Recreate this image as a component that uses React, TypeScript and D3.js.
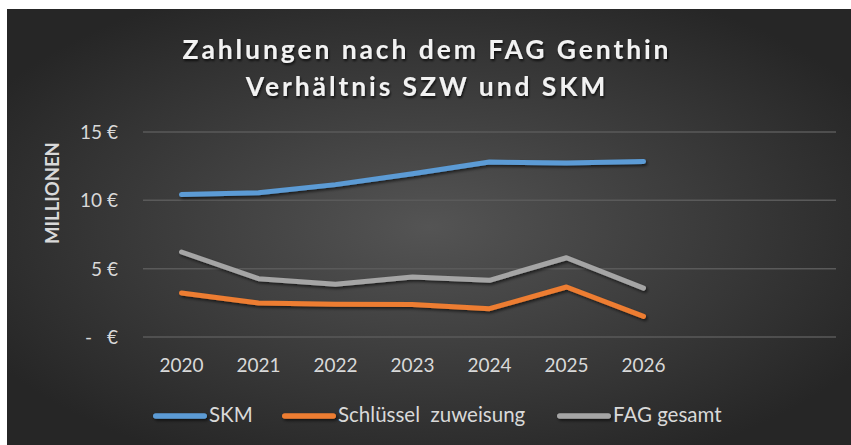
import React from 'react'
import * as d3 from 'd3'

const years = ['2020', '2021', '2022', '2023', '2024', '2025', '2026']
const emptySlots = ['_1', '_2']
const skm = [10.42, 10.56, 11.15, 11.95, 12.8, 12.73, 12.85]
const schluessel = [3.22, 2.49, 2.39, 2.37, 2.07, 3.66, 1.51]
const fagGesamt = [6.22, 4.27, 3.86, 4.39, 4.15, 5.8, 3.58]
const yTicks = [0, 5, 10, 15]

const seriesNames = ['SKM', 'Schlüssel  zuweisung', 'FAG gesamt']
const seriesColors = ['#5B9BD5', '#ED7D31', '#A5A5A5']
const seriesValues = [skm, schluessel, fagGesamt]

const width = 851
const height = 445
const frame = { x: 7, y: 9 }
const plot = { left: 143, right: 836, top: 132, bottom: 337 }
const font = 'Lato, "Open Sans", sans-serif'

export default function App() {
	const x = d3
		.scaleBand()
		.domain(years.concat(emptySlots))
		.range([plot.left, plot.right])
	const y = d3.scaleLinear().domain([0, 15]).range([plot.bottom, plot.top])
	const cx = (d: string) => (x(d) as number) + x.bandwidth() / 2

	const line = d3
		.line<number>()
		.x((_, i) => cx(years[i]))
		.y(d => y(d))

	// legend entries: start of the sample line
	const legendX = [153, 282, 557]
	const legendY = 416

	return (
		<svg
			width={width}
			height={height}
			style={{ position: 'absolute', left: 0, top: 0 }}
			fontFamily={font}
		>
			<defs>
				<radialGradient id="bg" cx="50%" cy="50%" r="60%">
					<stop offset="0%" stopColor="#545454" />
					<stop offset="100%" stopColor="#262626" />
				</radialGradient>
				<filter id="shadow" filterUnits="userSpaceOnUse" x="0" y="0" width={width} height={height}>
					<feDropShadow dx="1.5" dy="2" stdDeviation="1.5" floodColor="#000" floodOpacity="0.6" />
				</filter>
				<filter id="tshadow" filterUnits="userSpaceOnUse" x="0" y="0" width={width} height={height}>
					<feDropShadow dx="1" dy="2" stdDeviation="1.2" floodColor="#000" floodOpacity="0.7" />
				</filter>
			</defs>
			<rect width={width} height={height} fill="#fff" />
			<rect x={frame.x} y={frame.y} width={width - frame.x} height={height - frame.y} fill="url(#bg)" />

			<g filter="url(#tshadow)" fill="#F2F2F2" fontWeight="bold" fontSize={26.5} letterSpacing={2.9} textAnchor="middle">
				<text x={427} y={59}>Zahlungen nach dem FAG Genthin</text>
				<text x={427} y={96}>Verhältnis SZW und SKM</text>
			</g>

			{yTicks.map(t => (
				<line key={t} x1={plot.left} x2={plot.right} y1={y(t)} y2={y(t)} stroke="#5A5A5A" strokeWidth={1.5} />
			))}

			{yTicks.map(t =>
				t === 0 ? (
					<g key={t} fill="#D9D9D9" fontSize={19}>
						<text x={85} y={y(t) + 7}>-</text>
						<text x={118} y={y(t) + 7} textAnchor="end">€</text>
					</g>
				) : (
					<text key={t} x={118} y={y(t) + 7} textAnchor="end" fill="#D9D9D9" fontSize={19}>
						{`${t} €`}
					</text>
				)
			)}

			<text
				transform={`translate(59, ${193}) rotate(-90)`}
				textAnchor="middle"
				fill="#D9D9D9"
				fontWeight="bold"
				fontSize={18.5}
			>
				MILLIONEN
			</text>

			{years.map(d => (
				<text key={d} x={cx(d)} y={372} textAnchor="middle" fill="#D9D9D9" fontSize={19}>
					{d}
				</text>
			))}

			<g filter="url(#shadow)">
				{seriesValues.map((vals, i) => (
					<path
						key={seriesNames[i]}
						d={line(vals) || ''}
						fill="none"
						stroke={seriesColors[i]}
						strokeWidth={5}
						strokeLinecap="round"
						strokeLinejoin="round"
					/>
				))}
			</g>

			{seriesNames.map((name, i) => (
				<g key={name}>
					<rect
						x={legendX[i]}
						y={legendY - 2.75}
						width={54}
						height={5.5}
						rx={2.75}
						fill={seriesColors[i]}
						filter="url(#shadow)"
					/>
					<text x={legendX[i] + 56} y={422} fill="#D9D9D9" fontSize={20.5} style={{ whiteSpace: 'pre' }}>
						{name}
					</text>
				</g>
			))}
		</svg>
	)
}
